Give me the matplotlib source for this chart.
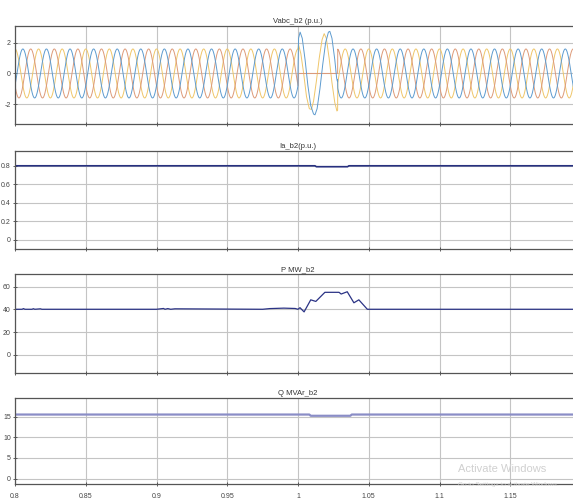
import numpy as np
import matplotlib.pyplot as plt

plt.rcParams['font.family'] = ['Liberation Sans Narrow', 'Liberation Sans', 'DejaVu Sans']

# --- data ---
t_start, t_end = 0.8, 1.2
freq = 60.0          # Hz
v_amp = 1.6          # p.u.
phase_deg = {'a': -30, 'b': -150, 'c': 90}   # phase at t = 0.8
fault_on, fault_off = 1.0, 1.028

# fault window samples (ms after 1.0 s, value p.u.)
va_fault_ms = [0.0, 0.4, 1.5, 3.0, 5.0, 7.0, 9.0, 11.0, 12.0, 13.5, 15.5, 17.5, 19.5, 21.5, 22.5, 24.0, 26.0, 27.3, 27.8, 28.0]
va_fault = [0.2, 2.3, 2.7, 2.3, 0.9, -0.8, -2.1, -2.65, -2.7, -2.3, -1.0, 0.6, 2.0, 2.7, 2.75, 2.3, 0.9, -0.3, -0.5, -0.4]
vb_fault_ms = [0.0, 0.3, 27.9, 28.0]
vb_fault = [-0.8, 0.0, 0.0, 0.0]
vc_fault_ms = [0.0, 0.3, 2.0, 4.0, 6.0, 8.0, 9.5, 11.0, 13.0, 15.0, 17.0, 18.5, 20.0, 22.0, 24.0, 26.0, 27.5, 28.0]
vc_fault = [1.6, 1.9, 1.3, 0.0, -1.5, -2.3, -2.35, -1.8, -0.5, 1.0, 2.2, 2.6, 2.3, 1.0, -0.6, -1.9, -2.45, -2.4]

ia_t = [0.8, 1.012, 1.013, 1.035, 1.036, 1.2]
ia_v = [0.80, 0.80, 0.79, 0.79, 0.80, 0.80]

p_t = [0.8, 0.805, 0.806, 0.807, 0.812, 0.813, 0.814, 0.818, 0.819, 0.9, 0.9, 0.905, 0.906, 0.908, 0.91, 0.913,
       0.975, 0.98, 0.99, 0.998, 1.0, 1.0014, 1.0043, 1.009, 1.0126, 1.019, 1.029, 1.0305, 1.0348,
       1.0395, 1.043, 1.049, 1.2]
p_v = [40, 40, 40.6, 40, 40, 40.5, 40, 40.4, 40, 40, 40, 40.7, 40, 40.6, 40, 40.4,
       40, 40.6, 41, 40.7, 40, 41.4, 37.7, 48.3, 46.9, 54.9, 54.9, 53.4, 55.4,
       45.7, 48.3, 40, 40]

q_t = [0.8, 1.008, 1.009, 1.037, 1.038, 1.2]
q_v = [15.5, 15.5, 15.2, 15.2, 15.5, 15.5]

# --- build three-phase voltage ---
t = np.arange(t_start, t_end, 0.0001)
def phase(key):
    return v_amp * np.sin(2 * np.pi * freq * (t - t_start) + np.deg2rad(phase_deg[key]))

def with_fault(v, ms, vals):
    tt = np.concatenate([t[t < fault_on], fault_on + np.array(ms) / 1000.0, t[t > fault_off]])
    vv = np.concatenate([v[t < fault_on], vals, v[t > fault_off]])
    return tt, vv

ta, va = with_fault(phase('a'), va_fault_ms, va_fault)
tb, vb = with_fault(phase('b'), vb_fault_ms, vb_fault)
tc, vc = with_fault(phase('c'), vc_fault_ms, vc_fault)

W, H = 573, 504
fig = plt.figure(figsize=(W / 100, H / 100), dpi=100)

def add_axes(top, bottom):
    x0, x1 = 15, 581
    return fig.add_axes([x0 / W, 1 - bottom / H, (x1 - x0) / W, (bottom - top) / H])

panels = [
    add_axes(26, 124),
    add_axes(151, 249),
    add_axes(274, 373),
    add_axes(398, 484),
]
titles = ['Vabc_b2 (p.u.)', 'Ia_b2(p.u.)', 'P MW_b2', 'Q MVAr_b2']
ylims = [(-3.3, 3.1), (-0.1, 0.96), (-16, 71), (-1.3, 19.5)]
yticks = [[-2, 0, 2], [0, 0.2, 0.4, 0.6, 0.8], [0, 20, 40, 60], [0, 5, 10, 15]]
xt = [0.8, 0.85, 0.9, 0.95, 1.0, 1.05, 1.1, 1.15, 1.2]
xt_labels = ['0.8', '0.85', '0.9', '0.95', '1', '1.05', '1.1', '1.15', '']

for ax, title, yl, yt in zip(panels, titles, ylims, yticks):
    ax.set_xlim(t_start, t_end)
    ax.set_ylim(*yl)
    ax.set_xticks(xt)
    ax.set_yticks(yt)
    ax.set_yticklabels([f'{v:g}' for v in yt])
    ax.grid(True, color='#c4c4c4', linewidth=0.8)
    ax.set_axisbelow(True)
    ax.tick_params(labelsize=5, colors='#444444', direction='inout', length=3, width=0.6, pad=1.5)
    ax.set_title(title, fontsize=5.5, color='#333333', pad=2)
    for s in ax.spines.values():
        s.set_color('#555555')
        s.set_linewidth(0.9)
    ax.set_xticklabels([])

panels[3].set_xticklabels(xt_labels)
panels[3].tick_params(axis='x', pad=5)

ax = panels[0]
ax.plot(tc, vc, color='#efc66a', linewidth=0.7)
ax.plot(tb, vb, color='#dd9a78', linewidth=0.7)
ax.plot(ta, va, color='#5d9bcf', linewidth=0.7)

panels[1].plot(ia_t, ia_v, color='#27307f', linewidth=1.2)
panels[2].plot(p_t, p_v, color='#2b3385', linewidth=0.9)
panels[3].plot(q_t, q_v, color='#8a8dc6', linewidth=1.6)

fig.text(458 / W, 1 - 472 / H, 'Activate Windows', fontsize=8, color='#d0d0d0')
fig.text(458 / W, 1 - 486 / H, 'Go to Settings to activate Windows.', fontsize=4.6, color='#d0d0d0')

fig.savefig('out.png', dpi=100)
